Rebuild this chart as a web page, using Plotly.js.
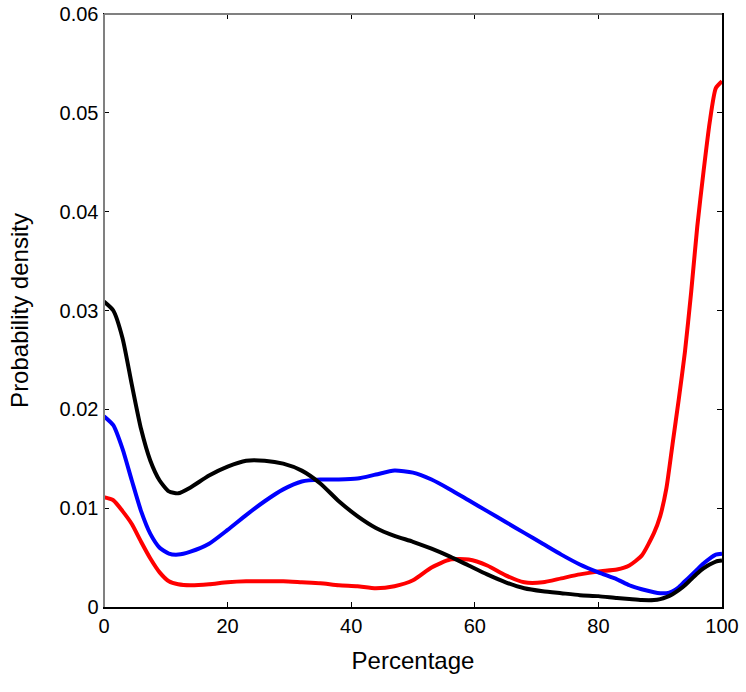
<!DOCTYPE html>
<html>
<head>
<meta charset="utf-8">
<script src="https://cdn.plot.ly/plotly-3.0.1.min.js"></script>
<style>html,body{margin:0;padding:0;background:#fff;}#chart{width:746px;height:692px;}</style>
</head>
<body>
<div id="chart"></div>
<script>
const xPct = [0,1.5,3,4.5,6,7.5,9,10.5,12,14,17,20,23,26,29,32,35,38,41,44,47,50,53,56,59,62,65,68,71,74,77,80,83,85,87,89,90,91,92,93,94,95,96,97,98,99,100];
const blackDensity = [0.0309,0.0300,0.0272,0.0225,0.0180,0.0148,0.0128,0.0117,0.0115,0.0121,0.0133,0.0142,0.0148,0.0148,0.0145,0.0138,0.0125,0.0107,0.0092,0.0080,0.0072,0.0066,0.0059,0.0051,0.0042,0.0033,0.0025,0.0019,0.0016,0.0014,0.0012,0.0011,0.0009,0.0008,0.0007,0.0007,0.0008,0.0010,0.0013,0.0017,0.0022,0.0028,0.0034,0.0039,0.0043,0.0046,0.0047];
const blueDensity = [0.0193,0.0184,0.0160,0.0128,0.0097,0.0074,0.0060,0.0054,0.0053,0.0056,0.0064,0.0078,0.0093,0.0107,0.0119,0.0127,0.0129,0.0129,0.0130,0.0134,0.0138,0.0136,0.0129,0.0119,0.0108,0.0097,0.0086,0.0075,0.0064,0.0053,0.0043,0.0035,0.0028,0.0022,0.0018,0.0015,0.0014,0.0014,0.0016,0.0020,0.0026,0.0032,0.0038,0.0044,0.0049,0.0053,0.0054];
const redDensity = [0.0111,0.0108,0.0097,0.0084,0.0066,0.0049,0.0035,0.0026,0.0023,0.0022,0.0023,0.0025,0.0026,0.0026,0.0026,0.0025,0.0024,0.0022,0.0021,0.0019,0.0021,0.0027,0.0040,0.0048,0.0048,0.0042,0.0032,0.0025,0.0025,0.0029,0.0033,0.0036,0.0038,0.0042,0.0052,0.0075,0.0092,0.0120,0.0165,0.0210,0.0258,0.0318,0.0385,0.0440,0.0490,0.0525,0.0532];
const xTicks = [0,20,40,60,80,100];
const yTicks = [0,0.01,0.02,0.03,0.04,0.05,0.06];
const yTickText = ['0','0.01','0.02','0.03','0.04','0.05','0.06'];

const mk = (y, c) => ({x: xPct, y: y, type: 'scatter', mode: 'lines',
  line: {color: c, width: 4, shape: 'spline', smoothing: 0.6}, hoverinfo: 'skip', showlegend: false});

const data = [mk(redDensity, '#ff0000'), mk(blueDensity, '#0000ff'), mk(blackDensity, '#000000')];

const fam = 'Liberation Sans, Arial, sans-serif';
const tickFont = {family: fam, size: 20, color: '#000'};
const titleFont = {family: fam, size: 24, color: '#000'};
const layout = {
  width: 746, height: 692,
  margin: {l: 104, r: 24, t: 14, b: 85},
  paper_bgcolor: '#fff', plot_bgcolor: '#fff',
  font: tickFont,
  showlegend: false,
  xaxis: {range: [0, 100], tickvals: xTicks, ticktext: xTicks.map(String),
    ticks: 'inside', ticklen: 5, tickwidth: 1, tickcolor: '#000',
    showline: true, linecolor: '#000', linewidth: 1.5, mirror: 'ticks',
    showgrid: false, zeroline: false, tickfont: tickFont,
    title: {text: 'Percentage', font: titleFont, standoff: 16}},
  yaxis: {range: [0, 0.06], tickvals: yTicks, ticktext: yTickText,
    ticks: 'inside', ticklen: 5, tickwidth: 1, tickcolor: '#000',
    showline: true, linecolor: '#000', linewidth: 1.5, mirror: 'ticks',
    showgrid: false, zeroline: false, tickfont: tickFont,
    title: {text: 'Probability density', font: titleFont, standoff: 24}},
  shapes: [
    {type: 'line', xref: 'paper', yref: 'paper', x0: 0, x1: 0, y0: 0, y1: 1, line: {color: '#808080', width: 2}, layer: 'above'},
    {type: 'line', xref: 'paper', yref: 'paper', x0: 0, x1: 1, y0: 1, y1: 1, line: {color: '#808080', width: 2}, layer: 'above'}
  ]
};
Plotly.newPlot('chart', data, layout, {staticPlot: true, displayModeBar: false});
</script>
</body>
</html>
